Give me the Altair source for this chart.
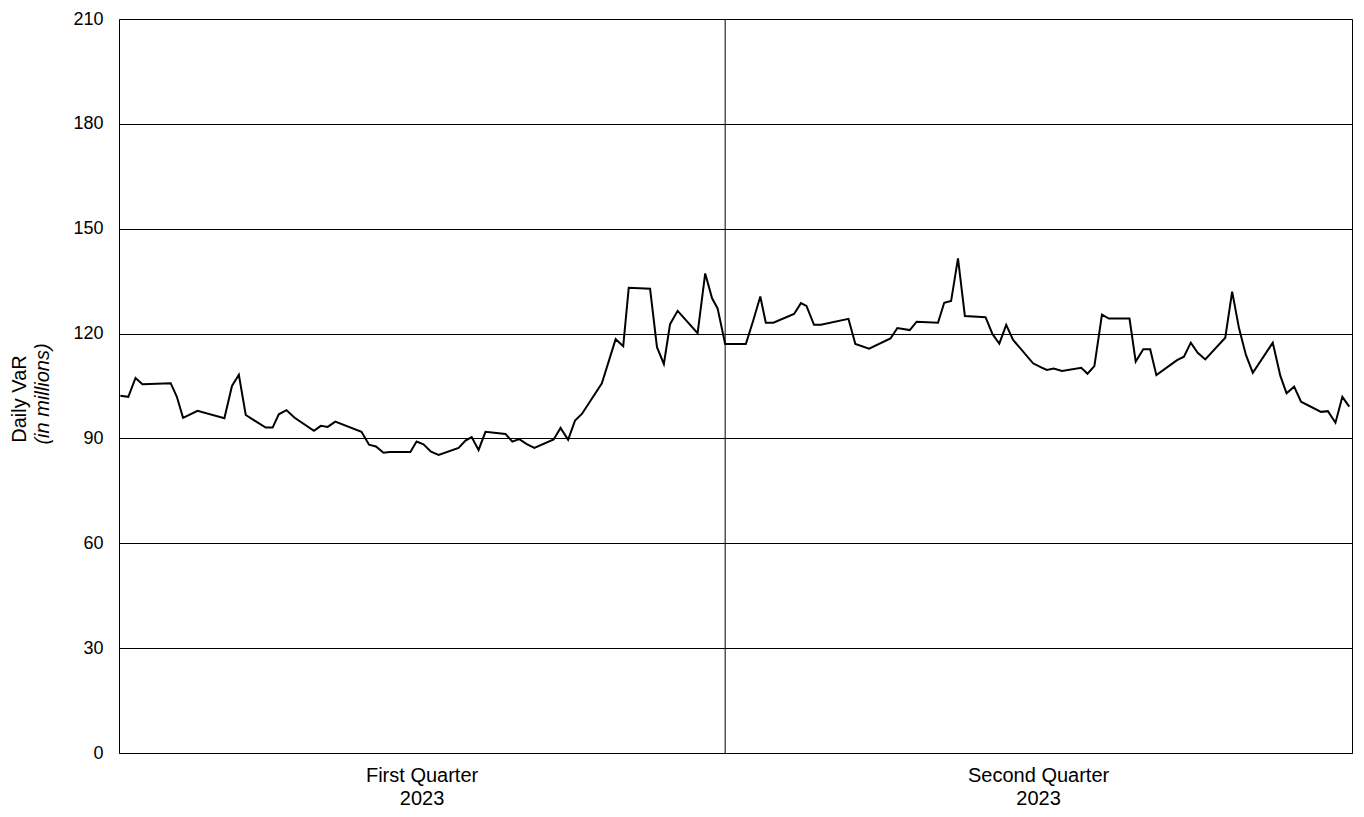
import altair as alt
import pandas as pd

# Day offset from the start of the period (first trading day of 2023) and daily VaR ($mm)
days = [0.2, 1.35, 2.4, 3.4, 7.5, 8.4, 9.3, 11.4, 15.3, 16.4, 17.4, 18.4, 21.3, 22.3, 23.2,
        24.3, 25.5, 28.3, 29.3, 30.3, 31.4, 35.2, 36.3, 37.3, 38.4, 39.3, 42.3, 43.2, 44.2,
        45.3, 46.4, 49.3, 50.3, 51.2, 52.2, 53.2, 56.1, 57.1, 58.1, 59.2, 60.3, 63.1, 64.1,
        65.2, 66.2, 67.2, 70.1, 72.1, 73.2, 74.0, 77.1, 78.1, 79.1, 80.0, 81.1, 84.0, 85.1,
        86.1, 86.9, 88.0,
        91.0, 92.1, 93.1, 93.9, 95.0, 98.0, 99.0, 99.8, 100.9, 101.9, 105.9, 106.9, 108.9,
        112.0, 113.0, 114.8, 115.8, 118.9, 119.8, 120.8, 121.8, 122.8, 125.8, 126.8, 127.8,
        128.8, 129.8, 132.7, 133.8, 134.7, 135.7, 136.9, 139.7, 140.6, 141.6, 142.7, 143.7,
        146.7, 147.6, 148.7, 149.7, 150.6, 153.6, 154.6, 155.6, 156.6, 157.7, 160.6, 161.6,
        162.6, 163.6, 164.6, 167.5, 168.6, 169.5, 170.6, 171.6, 174.5, 175.5, 176.6, 177.6,
        178.6]
var_values = [102.2, 101.9, 107.3, 105.5, 105.8, 101.9, 95.9, 97.9, 95.8, 105.0, 108.2, 96.7,
              93.1, 93.1, 96.9, 98.1, 95.9, 92.2, 93.6, 93.3, 94.8, 91.9, 88.2, 87.7, 85.9,
              86.1, 86.1, 89.1, 88.3, 86.2, 85.3, 87.3, 89.4, 90.4, 86.7, 91.9, 91.3, 89.1,
              89.8, 88.4, 87.3, 89.7, 93.0, 89.6, 95.1, 97.0, 105.8, 118.4, 116.4, 133.1,
              132.8, 116.1, 111.3, 122.7, 126.5, 120.1, 137.2, 130.1, 127.2, 117.0,
              117.0, 123.9, 130.6, 123.1, 123.1, 125.6, 128.7, 127.9, 122.5, 122.5, 124.2,
              117.0, 115.7, 118.6, 121.6, 121.0, 123.4, 123.1, 128.8, 129.3, 141.5, 125.0,
              124.7, 119.9, 117.1, 122.5, 118.2, 111.5, 110.4, 109.6, 110.0, 109.3, 110.2,
              108.5, 110.7, 125.4, 124.3, 124.3, 112.0, 115.5, 115.5, 108.1, 112.4, 113.4,
              117.4, 114.5, 112.6, 118.8, 132.0, 121.5, 113.9, 108.8, 117.4, 107.9, 102.9,
              104.8, 100.5, 97.6, 97.8, 94.5, 101.9, 99.1]

quarter_names = ["First Quarter", "Second Quarter"]
quarter_years = ["2023", "2023"]
quarter_mid = [44.0, 133.5]
quarter_boundary = [88.0]
x_domain = [0, 179]
y_ticks = [0, 30, 60, 90, 120, 150, 180, 210]
title_lines = ["Daily VaR", "(in millions)"]

FONT = "Liberation Sans"

df = pd.DataFrame({"day": days, "value": var_values})
qdf = pd.DataFrame({"day": quarter_mid, "name": quarter_names, "year": quarter_years})
bdf = pd.DataFrame({"day": quarter_boundary})

x_scale = alt.Scale(domain=x_domain, nice=False, zero=False)
y_scale = alt.Scale(domain=[0, 210], nice=False)


def xenc():
    return alt.X("day:Q", scale=x_scale, axis=None)


line = alt.Chart(df).mark_line(color="black", strokeWidth=2).encode(
    x=xenc(),
    y=alt.Y("value:Q", scale=y_scale,
            axis=alt.Axis(values=y_ticks, grid=True, gridColor="black", gridOpacity=1,
                          gridWidth=1, ticks=False, domain=False, labelPadding=16,
                          labelFontSize=18, labelColor="black", labelFont=FONT, title=None)),
)

divider = alt.Chart(bdf).mark_rule(color="black", strokeWidth=1).encode(x=xenc())

qlabels = alt.Chart(qdf).mark_text(fontSize=20, font=FONT, color="black",
                                   baseline="alphabetic", align="center").encode(
    x=xenc(), y=alt.value(763), text="name:N")
ylabels = alt.Chart(qdf).mark_text(fontSize=20, font=FONT, color="black",
                                   baseline="alphabetic", align="center").encode(
    x=xenc(), y=alt.value(786), text="year:N")

t1 = alt.Chart(pd.DataFrame({"t": [title_lines[0]]})).mark_text(
    fontSize=20, font=FONT, color="black", angle=270, baseline="alphabetic", align="center"
).encode(text="t:N", x=alt.value(-93), y=alt.value(380))
t2 = alt.Chart(pd.DataFrame({"t": [title_lines[1]]})).mark_text(
    fontSize=20, font=FONT, color="black", angle=270, baseline="alphabetic", align="center",
    fontStyle="italic"
).encode(text="t:N", x=alt.value(-70), y=alt.value(375))

chart = alt.layer(line, divider, qlabels, ylabels, t1, t2).properties(
    width=1233, height=734,
    background="white",
    autosize=alt.AutoSizeParams(type="none"),
    padding={"left": 111, "top": 11, "right": 4, "bottom": 55},
).configure_view(stroke="black", strokeWidth=1)

chart.save("out.html", embed_options={"renderer": "svg", "actions": False})
